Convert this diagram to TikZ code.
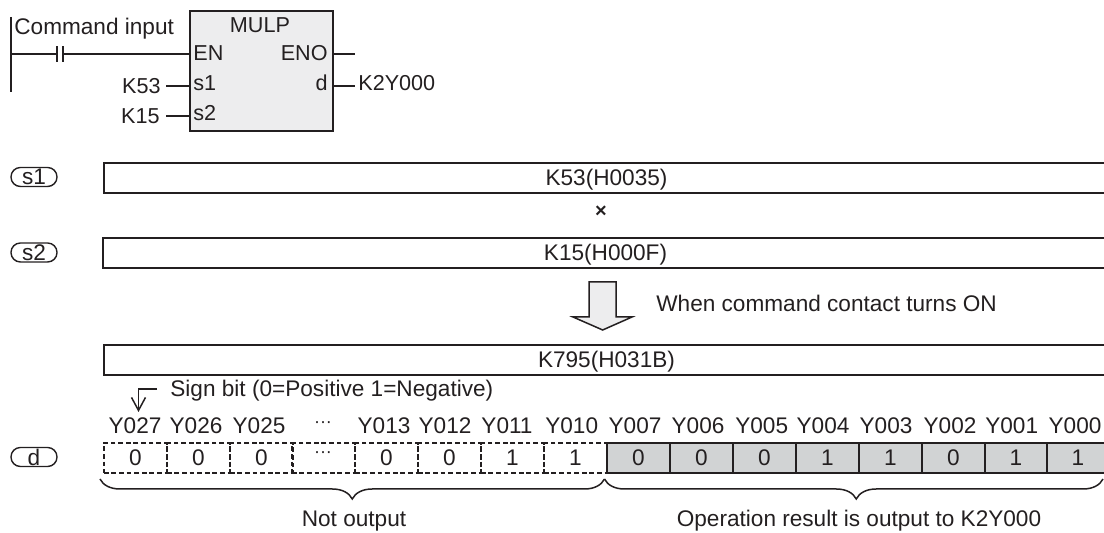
\documentclass[tikz,border=0pt]{standalone}
\usepackage{fontspec}
\setmainfont{Liberation Sans}
\usetikzlibrary{arrows.meta,decorations.pathreplacing}
\definecolor{InkDark}{HTML}{231F20}
\definecolor{BlockGray}{HTML}{EDEDEE}
\definecolor{CellGray}{HTML}{D1D3D4}
\tikzset{
  lbl/.style={inner sep=0pt,text=InkDark,font=\fontsize{11.3}{13}\selectfont},
  blocklbl/.style={lbl,font=\fontsize{10.8}{13}\selectfont},
  wire/.style={draw=InkDark,line width=.85pt},
  thin wire/.style={draw=InkDark,line width=.75pt},
  bar/.style={lbl,draw=InkDark,line width=1pt,minimum width=1005*.5pt,minimum height=15pt,text height=8pt,text depth=0pt,anchor=north west},
  pill/.style={lbl,draw=InkDark,line width=.7pt,rounded corners=4.7pt,minimum width=23pt,minimum height=9.5pt},
  cellbit/.style={lbl,minimum width=31.5pt,minimum height=15pt,anchor=north west},
  dots/.style={font=\fontsize{9}{10}\selectfont},
  brace/.style={thin wire,decorate,decoration={brace,mirror,amplitude=10pt,aspect=#1}}
}
\begin{document}
\begin{tikzpicture}[x=.5pt,y=-.5pt]
  \useasboundingbox (0,0) rectangle (1104,533);

  % ladder block
  \node[lbl,draw=InkDark,line width=1.2pt,fill=BlockGray,minimum width=71.5pt,minimum height=60pt,anchor=north west] (mulp) at (189,10) {};
  \node[blocklbl,anchor=base] (mulptitle) at (260,32.7) {MULP};
  \node[blocklbl,anchor=base west] (en) at (193,61) {EN};
  \node[blocklbl,anchor=base east] (eno) at (328,61) {ENO};
  \node[blocklbl,anchor=base west] (sa) at (193,90.7) {s1};
  \node[blocklbl,anchor=base west] (sb) at (193,120.7) {s2};
  \node[blocklbl,anchor=base east] (dout) at (328,90.7) {d};
  \node[lbl,anchor=base west] (cmd) at (14,35) {Command input};
  \node[blocklbl,anchor=base east] (ksa) at (161,94) {K53};
  \node[blocklbl,anchor=base east] (ksb) at (160,124) {K15};
  \node[blocklbl,anchor=base west] (kout) at (358,90.7) {K2Y000};

  \coordinate (railtop) at (11,17);
  \coordinate (railbot) at (11,92);
  \coordinate (railen) at (11,54);
  \coordinate (conta) at (57,54);
  \coordinate (contb) at (63,54);
  \coordinate (enoend) at (355,54);
  \draw[wire] (railtop) -- (railbot);
  \draw[wire] (railen) -- (conta);
  \draw[wire] (contb) -- (mulp.west |- contb);
  \draw[wire] ([yshift=3.8pt]conta) -- ([yshift=-3.8pt]conta);
  \draw[wire] ([yshift=3.8pt]contb) -- ([yshift=-3.8pt]contb);
  \draw[wire] (mulp.east |- enoend) -- (enoend);
  \draw[wire] (166,86) -- (mulp.west |- 0,86);
  \draw[wire] (166,116) -- (mulp.west |- 0,116);
  \draw[wire] (mulp.east |- 0,86) -- (355,86);

  % operand bars
  \node[pill] (pillsa) at (34,177) {s1};
  \node[pill] (pillsb) at (34,252.5) {s2};
  \node[pill] (pilld) at (34,457) {d};
  \node[bar] (bara) at (103,162) {K53(H0035)};
  \node[lbl,font=\fontsize{10}{12}\selectfont\bfseries] (times) at (601,212) {×};
  \node[bar] (barb) at (102,237) {K15(H000F)};
  \node[bar] (barc) at (103,344) {K795(H031B)};

  % block arrow
  \draw[thin wire,fill=BlockGray,line join=miter] (589,282) -- (616,282) -- (616,317) -- (632,317) -- (602.7,330) -- (573,317) -- (589,317) -- cycle;
  \node[lbl,anchor=base west] (when) at (656,312) {When command contact turns ON};

  % sign bit
  \node[lbl,anchor=base west] (sign) at (170,397) {Sign bit (0=Positive 1=Negative)};
  \coordinate (signstart) at (157,389);
  \coordinate (signtip) at (138.5,412);
  \draw[thin wire,-{Straight Barb[length=6.5pt,width=7pt]}] (signstart) -| (signtip);

  % bit labels
  \foreach \name/\posx in {Y027/135,Y026/196,Y025/259,Y013/384,Y012/445,Y011/507,Y010/571.7,Y007/635,Y006/698,Y005/761.7,Y004/823,Y003/886,Y002/950,Y001/1011.7,Y000/1075}
    \node[lbl,anchor=base] at (\posx,433.5) {\name};
  \node[lbl,dots] (labdots) at (323,425) {···};

  % bit cells
  \foreach \bit/\posx in {0/103,0/166,0/229,{}/291,0/354,0/417,1/480,1/543}
    \node[cellbit,draw=InkDark,line width=.85pt,dash pattern=on 2.4pt off 1.4pt] at (\posx,442) {\bit};
  \node[lbl,dots] (celldots) at (323,455) {···};
  \foreach \bit/\posx in {0/606,0/669,0/732,1/795,1/858,0/921,1/983.5}
    \node[cellbit,draw=InkDark,line width=1pt,fill=CellGray] at (\posx,442) {\bit};
  \node[cellbit,draw=InkDark,line width=1pt,fill=CellGray,minimum width=31pt] (celllast) at (1046,442) {1};

  % braces
  \coordinate (bracea) at (100,479);
  \coordinate (braceb) at (604.5,479);
  \coordinate (bracec) at (1103,479);
  \draw[brace=.5] (bracea) -- (braceb);
  \draw[brace=.505] (braceb) -- (bracec);
  \node[lbl,anchor=base] (notout) at (354,527) {Not output};
  \node[lbl,anchor=base] (opres) at (859,527) {Operation result is output to K2Y000};
\end{tikzpicture}
\end{document}
